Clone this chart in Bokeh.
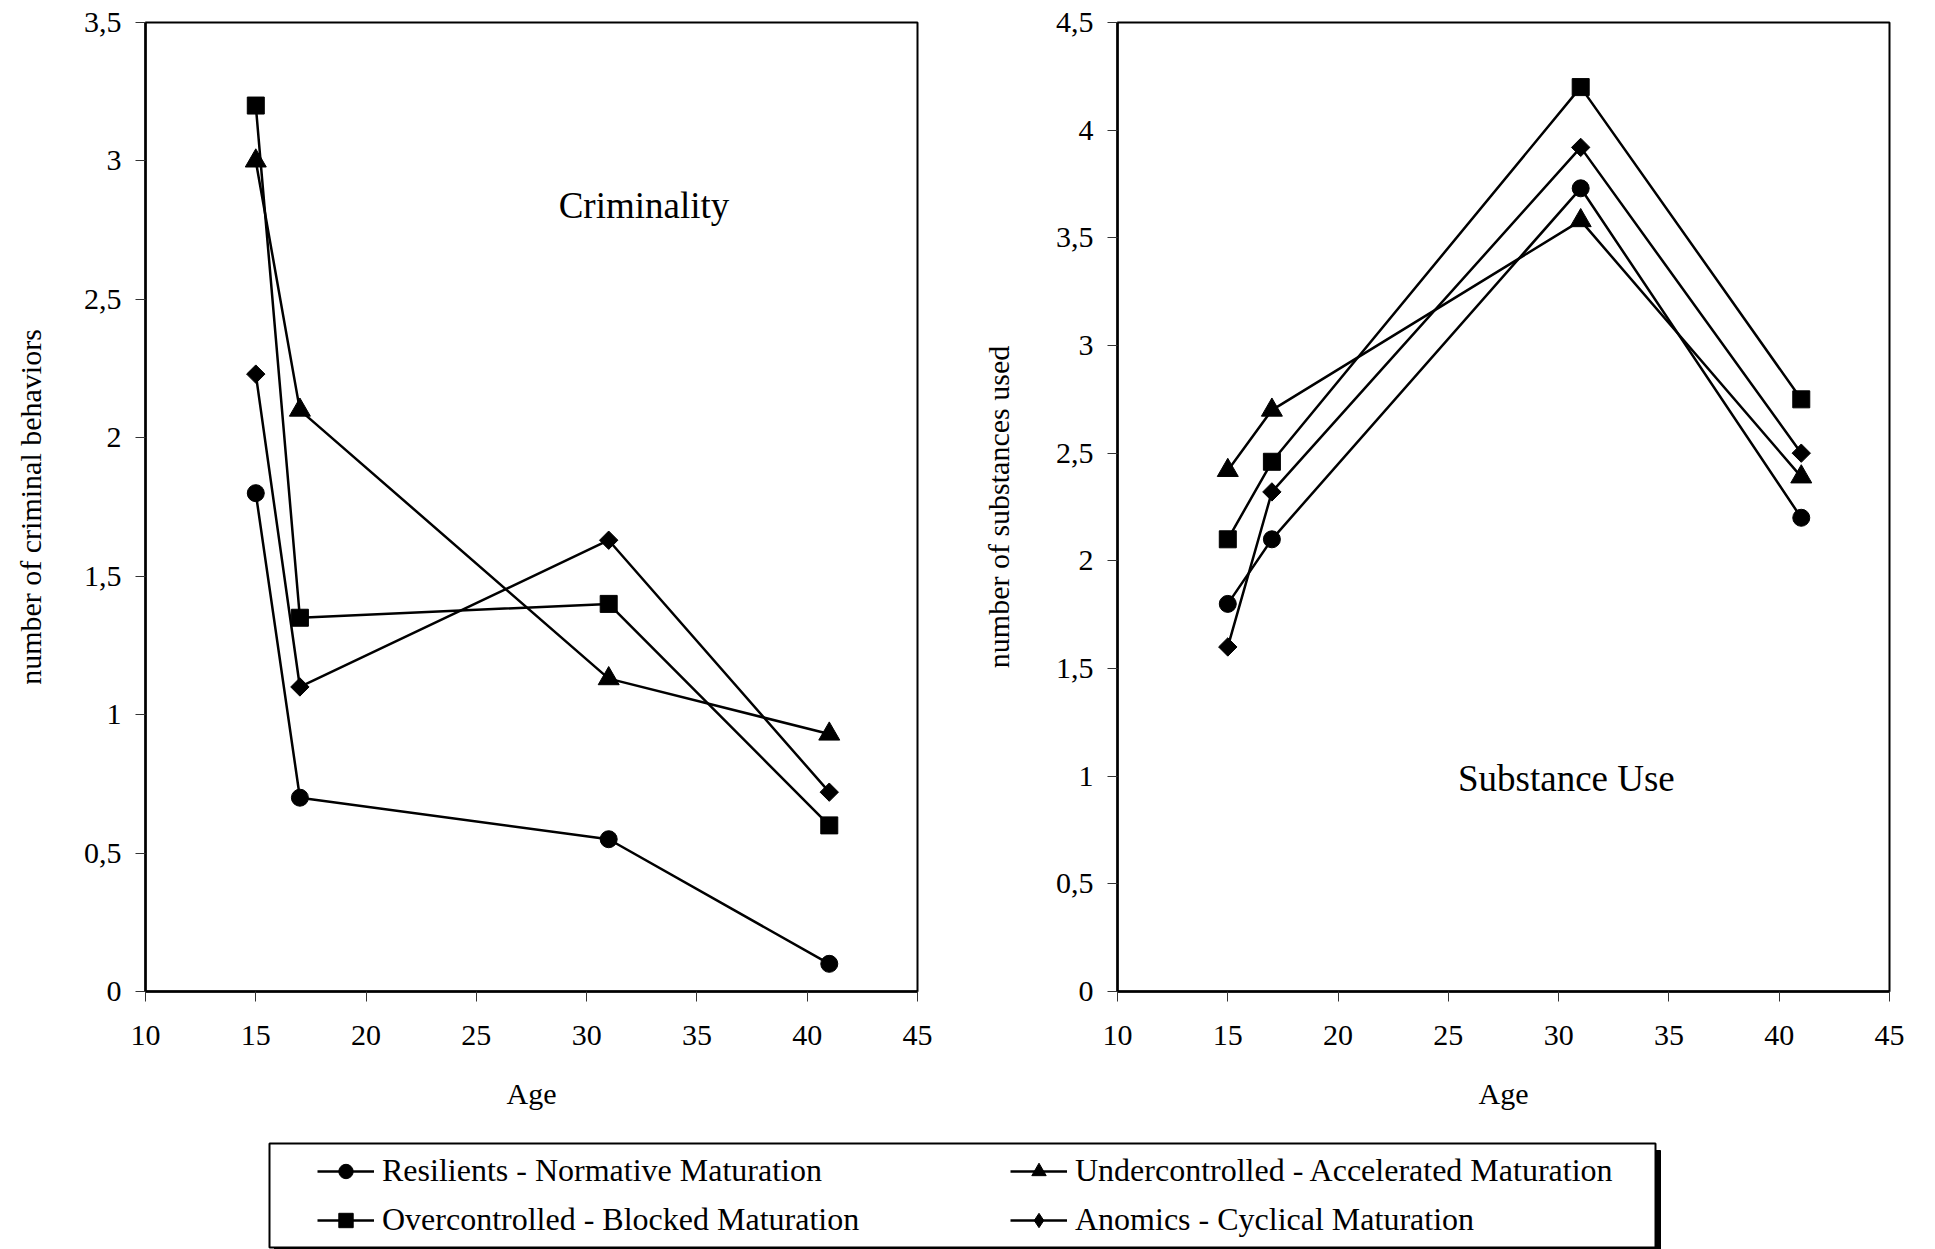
import math
from bokeh.plotting import figure
from bokeh.layouts import row, column
from bokeh.models import (Range1d, FixedTicker, CustomJSTickFormatter, Label,
                          Legend, LegendItem, ColumnDataSource)
from bokeh.embed import file_html
from bokeh.resources import INLINE

# ---------------- data ----------------
ages = [15, 17, 31, 41]

series_names = ["Resilients - Normative Maturation",
                "Undercontrolled - Accelerated Maturation",
                "Overcontrolled - Blocked Maturation",
                "Anomics - Cyclical Maturation"]

crim_resilients = [1.80, 0.70, 0.55, 0.10]
crim_under = [3.00, 2.10, 1.13, 0.93]
crim_over = [3.20, 1.35, 1.40, 0.60]
crim_anomic = [2.23, 1.10, 1.63, 0.72]

subs_resilients = [1.80, 2.10, 3.73, 2.20]
subs_under = [2.42, 2.70, 3.58, 2.39]
subs_over = [2.10, 2.46, 4.20, 2.75]
subs_anomic = [1.60, 2.32, 3.92, 2.50]

x_ticks = [10, 15, 20, 25, 30, 35, 40, 45]
crim_y_ticks = [0, 0.5, 1, 1.5, 2, 2.5, 3, 3.5]
subs_y_ticks = [0, 0.5, 1, 1.5, 2, 2.5, 3, 3.5, 4, 4.5]

FONT = "Liberation Serif"

markers = [dict(marker="circle", size=17, angle=0),
           dict(marker="triangle", size=21, angle=0),
           dict(marker="square", size=17, angle=0),
           dict(marker="square", size=13, angle=math.pi / 4)]
legend_markers = ["circle", "triangle", "square", "diamond"]

comma_fmt = CustomJSTickFormatter(code="return tick.toString().replace('.', ',');")


def make_panel(width, border_left, border_right, ymax, yticks, ylabel,
               series, title, tx, ty, label_standoff):
    p = figure(width=width, height=1130, output_backend="svg", toolbar_location=None,
               x_range=Range1d(10, 45), y_range=Range1d(0, ymax),
               min_border_left=border_left, min_border_right=border_right,
               min_border_top=22, min_border_bottom=139)
    p.grid.visible = False
    p.outline_line_color = "black"
    p.outline_line_width = 2
    p.background_fill_color = "white"
    p.border_fill_color = "white"
    for ax in (p.xaxis[0], p.yaxis[0]):
        ax.axis_line_width = 2.5
        ax.axis_line_color = "black"
        ax.major_tick_line_color = "#333333"
        ax.major_tick_line_width = 1
        ax.major_tick_out = 10
        ax.major_tick_in = 0
        ax.minor_tick_line_color = None
        ax.major_label_text_font = FONT
        ax.major_label_text_font_size = "30px"
        ax.major_label_text_color = "black"
        ax.axis_label_text_font = FONT
        ax.axis_label_text_font_size = "30px"
        ax.axis_label_text_font_style = "normal"
        ax.axis_label_text_color = "black"
        ax.formatter = comma_fmt
    p.xaxis[0].ticker = FixedTicker(ticks=x_ticks)
    p.yaxis[0].ticker = FixedTicker(ticks=yticks)
    p.xaxis[0].major_label_standoff = 24
    p.yaxis[0].major_label_standoff = 14
    p.xaxis[0].axis_label = "Age"
    p.xaxis[0].axis_label_standoff = 29
    p.yaxis[0].axis_label = ylabel
    p.yaxis[0].axis_label_standoff = label_standoff

    for vals, mk in zip(series, markers):
        src = ColumnDataSource(dict(x=ages, y=vals))
        p.line("x", "y", source=src, line_color="black", line_width=2.5)
        p.scatter("x", "y", source=src, marker=mk["marker"], size=mk["size"],
                  angle=mk["angle"], fill_color="black", line_color="black")

    p.add_layout(Label(x=tx, y=ty, text=title, text_font=FONT, text_font_size="37px",
                       text_align="center", text_baseline="middle", text_color="black"))
    return p


p1 = make_panel(940, 145, 23, 3.5, crim_y_ticks, "number of criminal behaviors",
                [crim_resilients, crim_under, crim_over, crim_anomic],
                "Criminality", 32.6, 2.84, 34)
p2 = make_panel(995, 177, 46, 4.5, subs_y_ticks, "number of substances used",
                [subs_resilients, subs_under, subs_over, subs_anomic],
                "Substance Use", 30.35, 0.99, 38)

# ---------------- legend panel ----------------
p3 = figure(width=1935, height=119, output_backend="svg", toolbar_location=None,
            x_range=Range1d(0, 1935), y_range=Range1d(119, 0),
            min_border=0, x_axis_location=None, y_axis_location=None)
p3.grid.visible = False
p3.outline_line_color = None
p3.background_fill_color = "white"
p3.border_fill_color = "white"
# box with drop shadow
p3.quad(left=[274], right=[1660], top=[20], bottom=[125], fill_color="black", line_color="black")
p3.quad(left=[269], right=[1655], top=[13], bottom=[117], fill_color="white",
        line_color="black", line_width=2)

nan = float("nan")
items = []
for name, mk in zip(series_names, legend_markers):
    src = ColumnDataSource(dict(x=[nan], y=[nan]))
    lr = p3.line("x", "y", source=src, line_color="black", line_width=2.5)
    sr = p3.scatter("x", "y", source=src, marker=mk,
                    fill_color="black", line_color="black")
    items.append(LegendItem(label=name, renderers=[lr, sr]))


def make_legend(its, loc):
    lg = Legend(items=its, location=loc, orientation="vertical",
                glyph_width=57, glyph_height=36, label_height=36, spacing=12,
                label_standoff=8, padding=0, margin=0,
                border_line_color=None, background_fill_alpha=0,
                label_text_font=FONT, label_text_font_size="32px",
                label_text_color="black")
    return lg


p3.add_layout(make_legend([items[0], items[2]], (317, 11)), "center")
p3.add_layout(make_legend([items[1], items[3]], (1010, 11)), "center")

layout = column(row(p1, p2), p3)
open("out.html", "w").write(file_html(layout, INLINE))
